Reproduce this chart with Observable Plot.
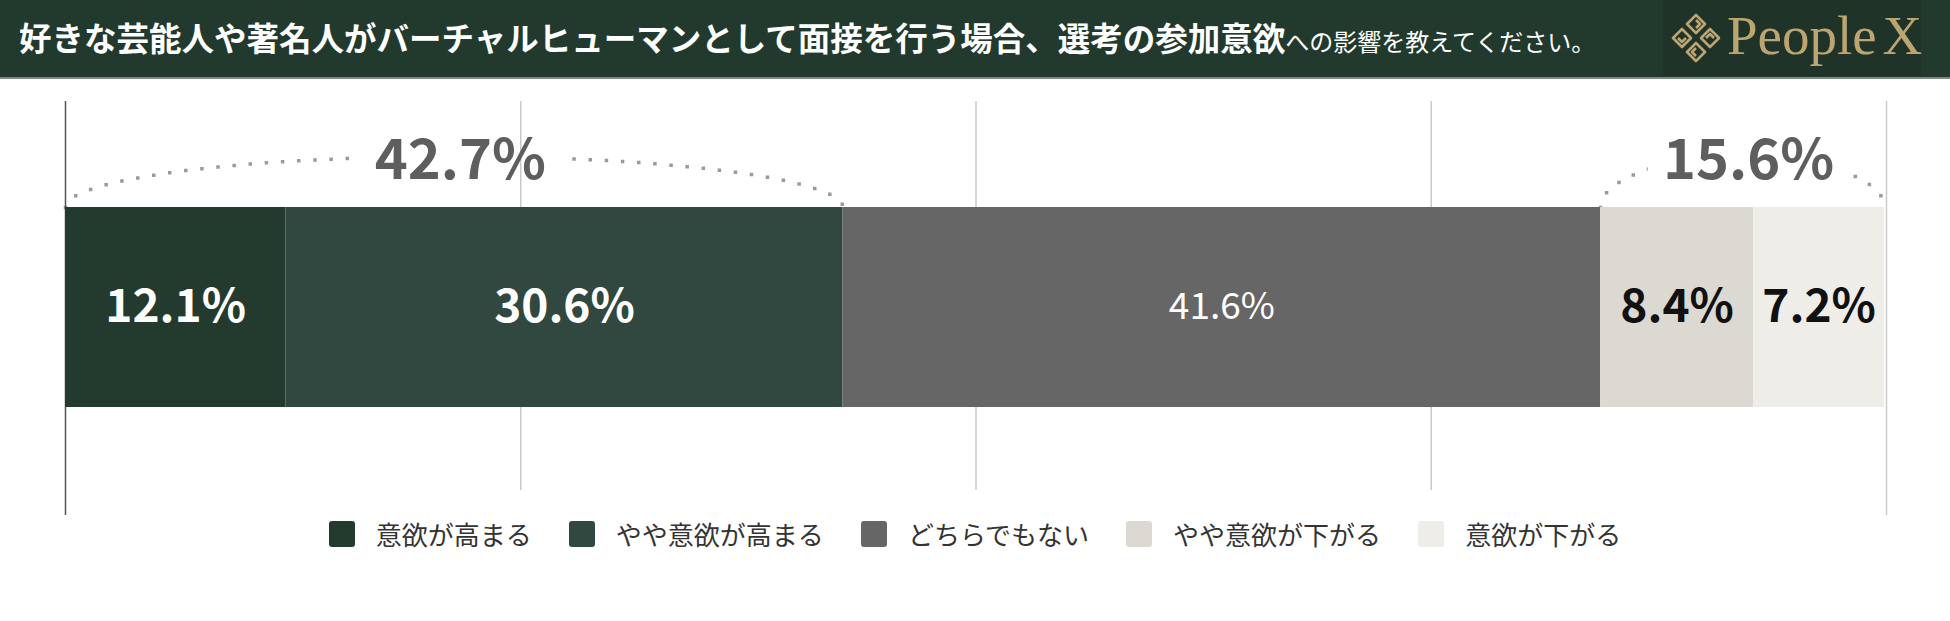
<!DOCTYPE html>
<html><head><meta charset="utf-8">
<script src="https://cdn.jsdelivr.net/npm/d3@7"></script>
<script src="https://cdn.jsdelivr.net/npm/@observablehq/plot@0.6"></script>
<style>
html,body{margin:0;padding:0;background:#fff;}
body{width:1950px;height:621px;overflow:hidden;font-family:"Noto Sans CJK JP","Noto Sans",sans-serif;}
#header{position:relative;height:77px;background:#223a2e;border-bottom:2px solid #7e8b83;}
#title{position:absolute;left:19px;top:0;height:74px;display:flex;align-items:baseline;line-height:74px;color:#fff;white-space:nowrap;}
#title .main{font-weight:700;font-size:32.5px;}
#title .sub{font-weight:400;font-size:24px;}
#logo{position:absolute;left:1663px;top:0;width:258px;height:76px;background:#1f3329;}
#logo svg{position:absolute;left:6px;top:11px;}
#logo .word{position:absolute;left:64px;top:0;line-height:72px;font-family:"Liberation Serif","DejaVu Serif",serif;font-size:55px;word-spacing:-8px;color:#bba571;white-space:nowrap;}
#chart svg{display:block;}
.lg-swatches{font-family:"Noto Sans CJK JP",sans-serif;font-size:26px;line-height:1.2;color:#333;justify-content:center;margin:0;min-height:33px;}
.lg-swatch{margin-right:37px;}
.lg-swatch:last-of-type{margin-right:0;}
.lg-swatch > svg{margin-right:21px;}
.lg-swatch rect{rx:3px;ry:3px;}
</style>
</head><body>
<div id="header">
  <div id="title"><span class="main">好きな芸能人や著名人がバーチャルヒューマンとして面接を行う場合、選考の参加意欲</span><span class="sub">への影響を教えてください。</span></div>
  <div id="logo">
    <svg width="54" height="54" viewBox="-27 -27 54 54">
      <g fill="none" stroke="#bba571" stroke-width="2.6" stroke-linejoin="round">
        <path d="M0,-23 L9,-14 L0,-5 L-9,-14 Z M0,-18 L4,-14 L0,-10"/>
        <path d="M-23,0 L-14,-9 L-5,0 L-14,9 Z M-18,0 L-14,4 L-10,0"/>
        <path d="M23,0 L14,9 L5,0 L14,-9 Z M18,0 L14,-4 L10,0"/>
        <path d="M0,23 L-9,14 L0,5 L9,14 Z M0,18 L-4,14 L0,10"/>
      </g>
    </svg>
    <div class="word">People X</div>
  </div>
</div>
<div id="chart"></div>
<div id="legend"></div>
<script>
// ---- data ----
const categories = ["意欲が高まる", "やや意欲が高まる", "どちらでもない", "やや意欲が下がる", "意欲が下がる"];
const values = [12.1, 30.6, 41.6, 8.4, 7.2];
const colors = ["#233b2f", "#30483f", "#666666", "#dcd9d2", "#eeede8"];
const ticks = [0, 25, 50, 75, 100];
const groupIndices = [[0, 1], [3, 4]]; // positive group, negative group

// ---- derived rows ----
let cum = 0;
const rows = categories.map((cat, i) => {
  const r = {i, cat, value: values[i], x1: cum, x2: cum + values[i]};
  cum += values[i];
  r.mid = (r.x1 + r.x2) / 2;
  r.label = values[i].toFixed(1) + "%";
  return r;
});
const groups = groupIndices.map((idx, g) => {
  const x1 = rows[idx[0]].x1, x2 = rows[idx[idx.length - 1]].x2;
  const total = d3.sum(idx, i => values[i]);
  return {g, x1, x2, mid: (x1 + x2) / 2, label: total.toFixed(1) + "%"};
});
// elliptical dotted arc above each group
const arcPts = [];
groups.forEach(gr => {
  const n = 200, cx = (gr.x1 + gr.x2) / 2, rx = (gr.x2 - gr.x1) / 2;
  for (let k = 0; k <= n; k++) {
    const th = Math.PI - Math.PI * k / n;
    arcPts.push({g: gr.g, x: cx + rx * Math.cos(th), y: 1 + 0.255 * Math.sin(th)});
  }
});

const font = "'Noto Sans CJK JP', sans-serif";
const groupText = {x: "mid", y: 1.23, text: "label", fontSize: 56, fontWeight: 700, dx: 6};
const chart = Plot.plot({
  width: 1950, height: 438,
  marginLeft: 65, marginRight: 64, marginTop: 0, marginBottom: 0,
  x: {domain: [ticks[0], ticks[ticks.length - 1]], axis: null},
  y: {domain: [0, 1], range: [328, 128], axis: null},
  color: {domain: categories, range: colors},
  style: {fontFamily: font, background: "transparent", overflow: "visible"},
  marks: [
    Plot.line(arcPts, {x: "x", y: "y", z: "g", stroke: "#9a9a9a", strokeWidth: 3.5,
      strokeDasharray: "0,16.2", strokeLinecap: "square", curve: "linear"}),
    Plot.text(groups, {...groupText, fill: "white", stroke: "white", strokeWidth: 40, strokeLinejoin: "round"}),
    Plot.ruleX(ticks.slice(1, -1), {y1: -0.415, y2: 1.53, stroke: "#c9c9c9", strokeWidth: 1.5}),
    Plot.ruleX([ticks[0]], {y1: -0.54, y2: 1.53, stroke: "#555555", strokeWidth: 1.5}),
    Plot.ruleX([ticks[ticks.length - 1]], {y1: -0.54, y2: 1.53, stroke: "#cccccc", strokeWidth: 1.5}),
    Plot.rectX(rows, {x1: "x1", x2: "x2", y1: 0, y2: 1, fill: "cat"}),
    Plot.text(rows.filter(r => r.i < 2), {x: "mid", y: 0.5, text: "label", fontSize: 46, fontWeight: 700, fill: "#ffffff"}),
    Plot.text(rows.filter(r => r.i === 2), {x: "mid", y: 0.5, text: "label", fontSize: 37, fontWeight: 400, fill: "#ffffff"}),
    Plot.text(rows.filter(r => r.i > 2), {x: "mid", y: 0.5, text: "label", fontSize: 46, fontWeight: 700, fill: "#111111"}),
    Plot.text(groups, {...groupText, fill: "#5e5e5e"})
  ]
});
document.getElementById("chart").appendChild(chart);

const legend = Plot.legend({
  color: {domain: categories, range: colors},
  swatchSize: 26,
  className: "lg"
});
document.getElementById("legend").appendChild(legend);
</script>
</body></html>
